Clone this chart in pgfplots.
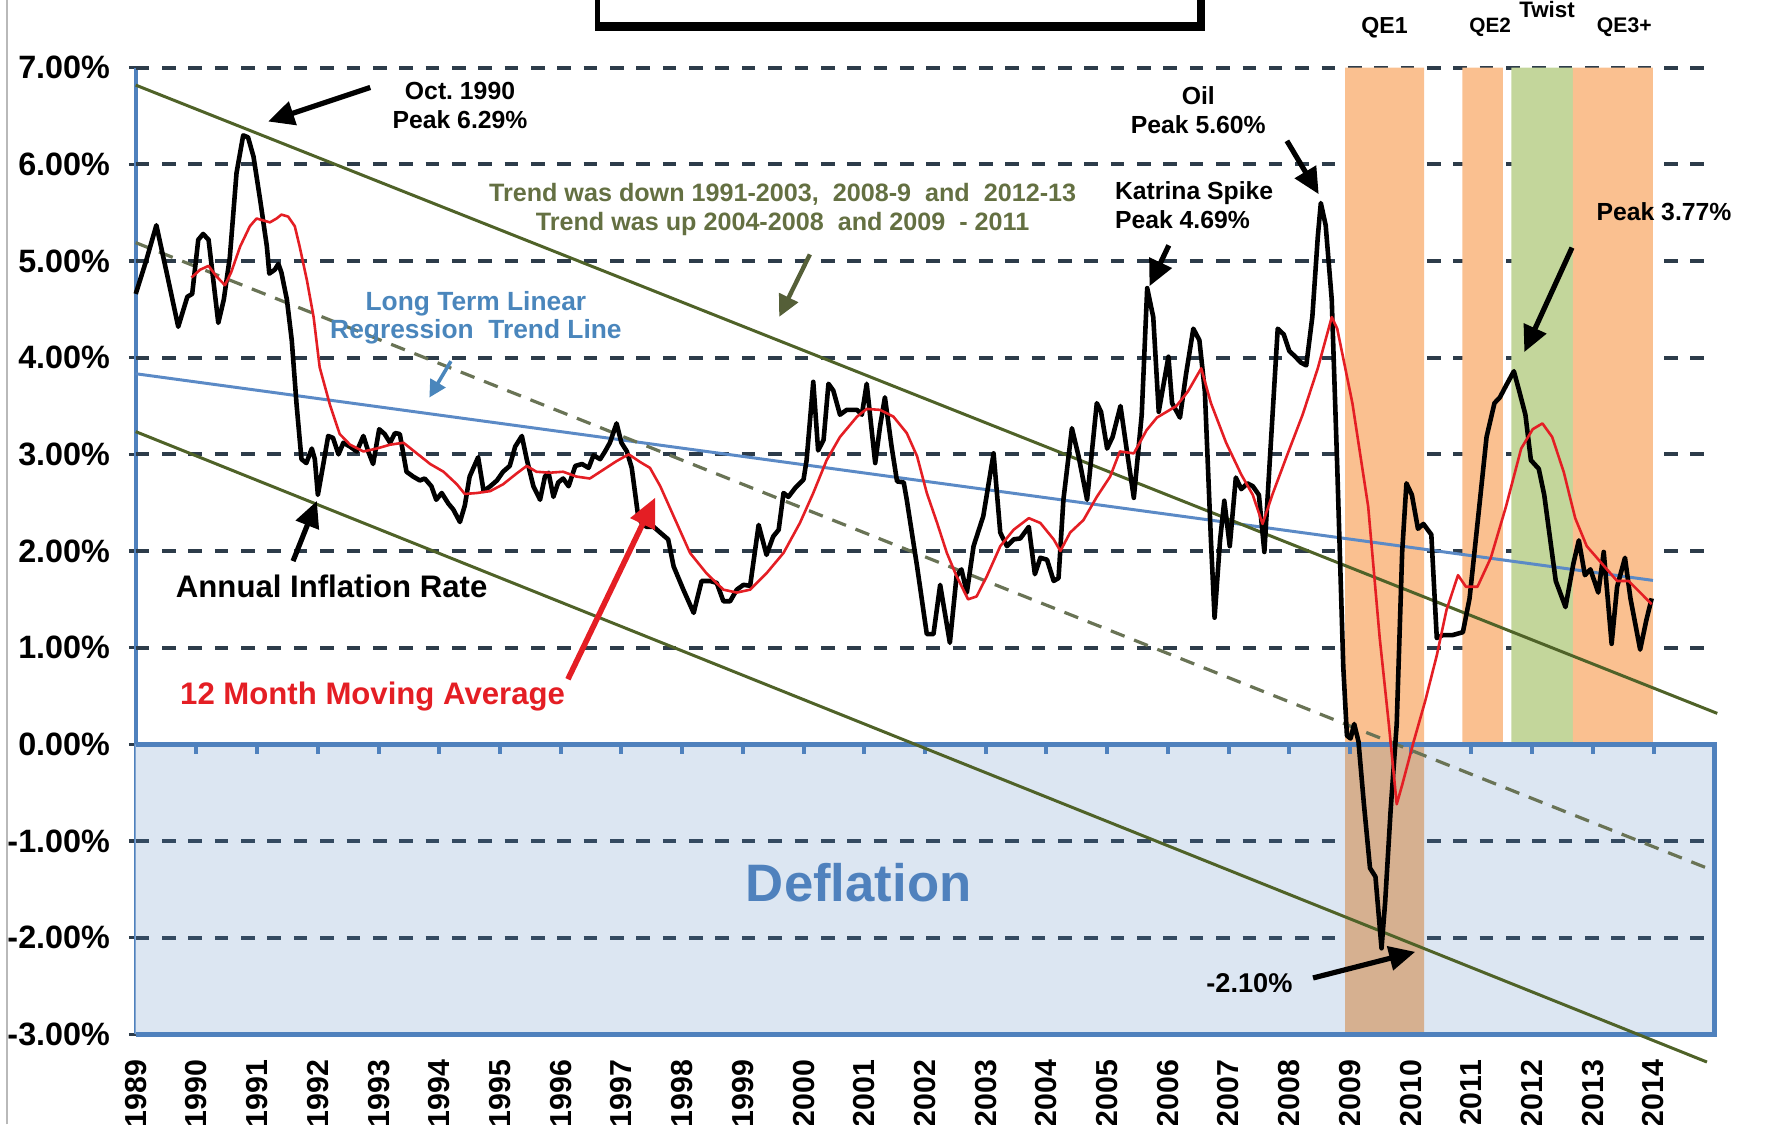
\documentclass[border=0pt]{standalone}
\usepackage{fontspec}
\setmainfont{Liberation Sans}
\usepackage{pgfplots}
\pgfplotsset{compat=1.18}
\usetikzlibrary{arrows.meta}
\definecolor{gridc}{RGB}{45,60,74}
\definecolor{axblue}{RGB}{79,129,189}
\definecolor{deffill}{RGB}{220,230,242}
\definecolor{qeorange}{RGB}{250,192,144}
\definecolor{qegreen}{RGB}{195,214,155}
\definecolor{qelow}{RGB}{214,176,144}
\definecolor{trendc}{RGB}{79,98,40}
\definecolor{trenddash}{RGB}{105,115,85}
\definecolor{regc}{RGB}{91,138,198}
\definecolor{mared}{RGB}{228,30,36}
\definecolor{olivetext}{RGB}{100,112,66}
\definecolor{bluetext}{RGB}{74,134,188}
\pgfplotsset{gridl/.style={gridc, line width=1pt, dash pattern=on 1.2mm off 1.12mm}}
\begin{document}
\begin{tikzpicture}
\begin{axis}[
  at={(11.95mm,7.94mm)}, anchor=south west,
  width=138.97mm, height=85.1mm, scale only axis,
  xmin=1989, xmax=2015, ymin=-3, ymax=7,
  axis x line*=bottom, axis y line*=left,
  x axis line style={axblue, line width=1.2pt, -},
  y axis line style={axblue, line width=1pt, -},
  xtick={1989,1990,1991,1992,1993,1994,1995,1996,1997,1998,1999,2000,2001,2002,2003,2004,2005,2006,2007,2008,2009,2010,2011,2012,2013,2014},
  xticklabels={1989,1990,1991,1992,1993,1994,1995,1996,1997,1998,1999,2000,2001,2002,2003,2004,2005,2006,2007,2008,2009,2010,2011,2012,2013,2014},
  xtick style={draw=none},
  xticklabel style={rotate=90, anchor=east, font=\fontsize{7.6}{9}\selectfont\bfseries, inner sep=0pt},
  xticklabel shift=1.6mm,
  ytick={-3,-2,-1,0,1,2,3,4,5,6,7},
  yticklabels={-3.00\%,-2.00\%,-1.00\%,0.00\%,1.00\%,2.00\%,3.00\%,4.00\%,5.00\%,6.00\%,7.00\%},
  yticklabel style={anchor=east, font=\fontsize{8.1}{9}\selectfont\bfseries, inner sep=0pt},
  yticklabel shift=1.6mm,
  ytick style={gridc, line width=0.8pt},
  tick align=outside, major tick length=0.6mm,
  clip=false,
]
% deflation box fill
\addplot[draw=none, fill=deffill] coordinates {(1989,-3) (1989,0) (2015,0) (2015,-3) (1989,-3)};
% grid lines
\addplot[gridl] coordinates {(1989,7) (2015,7)};
\addplot[gridl] coordinates {(1989,6) (2015,6)};
\addplot[gridl] coordinates {(1989,5) (2015,5)};
\addplot[gridl] coordinates {(1989,4) (2015,4)};
\addplot[gridl] coordinates {(1989,3) (2015,3)};
\addplot[gridl] coordinates {(1989,2) (2015,2)};
\addplot[gridl] coordinates {(1989,1) (2015,1)};
\addplot[gridl, color=gridc!80!axblue] coordinates {(1989,-1) (2015,-1)};
\addplot[gridl, color=gridc!80!axblue] coordinates {(1989,-2) (2015,-2)};
% QE bands
\addplot[draw=none, fill=qeorange] coordinates {(2008.92,0) (2008.92,7) (2010.22,7) (2010.22,0) (2008.92,0)};
\addplot[draw=none, fill=qelow] coordinates {(2008.92,-3) (2008.92,0) (2010.22,0) (2010.22,-3) (2008.92,-3)};
\addplot[draw=none, fill=qeorange] coordinates {(2010.85,0) (2010.85,7) (2011.52,7) (2011.52,0) (2010.85,0)};
\addplot[draw=none, fill=qegreen] coordinates {(2011.66,0) (2011.66,7) (2012.67,7) (2012.67,0) (2011.66,0)};
\addplot[draw=none, fill=qeorange] coordinates {(2012.67,0) (2012.67,7) (2013.99,7) (2013.99,0) (2012.67,0)};
% deflation border
\addplot[axblue, line width=1.2pt] coordinates {(1989,0) (2015,0) (2015,-3) (1989,-3)};
% zero-line ticks
\addplot[axblue, line width=1pt, ycomb] coordinates {(1990,-0.1) (1991,-0.1) (1992,-0.1) (1993,-0.1) (1994,-0.1) (1995,-0.1) (1996,-0.1) (1997,-0.1) (1998,-0.1) (1999,-0.1) (2000,-0.1) (2001,-0.1) (2002,-0.1) (2003,-0.1) (2004,-0.1) (2005,-0.1) (2006,-0.1) (2007,-0.1) (2008,-0.1) (2009,-0.1) (2010,-0.1) (2011,-0.1) (2012,-0.1) (2013,-0.1) (2014,-0.1)};
% trend lines
\addplot[regc, line width=0.75pt] coordinates {(1989,3.834) (2013.99,1.696)};
\addplot[trendc, line width=0.75pt] coordinates {(1989,6.82) (2015.05,0.32)};
\addplot[trendc, line width=0.75pt] coordinates {(1989,3.235) (2014.88,-3.287)};
\addplot[trenddash, line width=0.8pt, dash pattern=on 1.3mm off 0.9mm] coordinates {(1989,5.19) (2014.92,-1.29)};
% annual inflation rate
\addplot[black, line width=1.15pt, line join=round] coordinates {
(1989.0,4.66) (1989.17,5.0) (1989.34,5.37) (1989.52,4.85) (1989.70,4.32) (1989.85,4.63) (1989.93,4.66)
(1990.03,5.22) (1990.11,5.28) (1990.2,5.22) (1990.36,4.36) (1990.45,4.6) (1990.55,5.04) (1990.66,5.91)
(1990.77,6.30) (1990.85,6.28) (1990.94,6.08) (1991.05,5.63) (1991.16,5.15) (1991.2,4.87) (1991.29,4.91)
(1991.35,4.97) (1991.4,4.88) (1991.49,4.6) (1991.57,4.18) (1991.65,3.51) (1991.73,2.95) (1991.81,2.91)
(1991.9,3.06) (1991.95,2.95) (1992.0,2.58) (1992.09,2.9) (1992.17,3.19) (1992.25,3.17) (1992.34,3.0)
(1992.42,3.12) (1992.53,3.08) (1992.64,3.03) (1992.75,3.19) (1992.83,3.03) (1992.91,2.9) (1993.01,3.26)
(1993.1,3.21) (1993.19,3.12) (1993.27,3.22) (1993.35,3.21) (1993.46,2.82) (1993.57,2.77) (1993.68,2.73)
(1993.76,2.75) (1993.87,2.67) (1993.95,2.53) (1994.04,2.6) (1994.15,2.49) (1994.23,2.43) (1994.34,2.3)
(1994.42,2.47) (1994.5,2.77) (1994.64,2.97) (1994.73,2.62) (1994.84,2.67) (1994.95,2.73) (1995.05,2.82)
(1995.16,2.88) (1995.25,3.08) (1995.36,3.19) (1995.44,2.95) (1995.55,2.67) (1995.66,2.53) (1995.74,2.77)
(1995.8,2.81) (1995.88,2.56) (1995.96,2.71) (1996.04,2.75) (1996.13,2.67) (1996.24,2.88) (1996.35,2.9)
(1996.46,2.86) (1996.54,2.99) (1996.65,2.95) (1996.73,3.03) (1996.81,3.12) (1996.92,3.32) (1997.0,3.12)
(1997.09,3.03) (1997.17,2.86) (1997.28,2.34) (1997.36,2.27) (1997.42,2.25) (1997.53,2.25) (1997.64,2.19)
(1997.77,2.12) (1997.86,1.84) (1998.02,1.6) (1998.19,1.36) (1998.32,1.69) (1998.46,1.69) (1998.57,1.67)
(1998.68,1.48) (1998.79,1.48) (1998.9,1.6) (1999.01,1.65) (1999.12,1.64) (1999.26,2.27) (1999.39,1.96)
(1999.5,2.15) (1999.59,2.22) (1999.67,2.6) (1999.75,2.56) (1999.86,2.65) (2000.0,2.74) (2000.05,2.94)
(2000.16,3.75) (2000.24,3.04) (2000.33,3.15) (2000.41,3.73) (2000.49,3.66) (2000.6,3.41) (2000.71,3.46)
(2000.88,3.46) (2000.96,3.41) (2001.04,3.73) (2001.18,2.91) (2001.26,3.29) (2001.34,3.59) (2001.45,3.08)
(2001.54,2.72) (2001.65,2.71) (2001.7,2.53) (2001.87,1.84) (2002.03,1.14) (2002.14,1.14) (2002.25,1.65)
(2002.41,1.05) (2002.52,1.74) (2002.6,1.81) (2002.69,1.57) (2002.8,2.05) (2002.96,2.36) (2003.13,3.01)
(2003.24,2.19) (2003.35,2.05) (2003.46,2.12) (2003.57,2.13) (2003.71,2.25) (2003.81,1.76) (2003.9,1.93)
(2004.01,1.91) (2004.12,1.69) (2004.2,1.72) (2004.28,2.53) (2004.42,3.27) (2004.53,2.98) (2004.67,2.53)
(2004.83,3.53) (2004.9,3.44) (2005.0,3.06) (2005.09,3.18) (2005.22,3.5) (2005.32,3.06) (2005.44,2.55)
(2005.57,3.41) (2005.66,4.72) (2005.76,4.42) (2005.85,3.44) (2006.01,4.01) (2006.07,3.53) (2006.2,3.38)
(2006.3,3.83) (2006.42,4.3) (2006.52,4.18) (2006.61,3.65) (2006.71,2.11) (2006.77,1.31) (2006.86,2.11)
(2006.93,2.52) (2007.02,2.05) (2007.12,2.76) (2007.21,2.64) (2007.31,2.7) (2007.4,2.67) (2007.5,2.58)
(2007.59,1.99) (2007.68,2.94) (2007.81,4.3) (2007.91,4.24) (2008.0,4.07) (2008.1,4.01) (2008.19,3.95)
(2008.28,3.92) (2008.38,4.42) (2008.47,5.25) (2008.52,5.6) (2008.6,5.37) (2008.7,4.6) (2008.79,2.88)
(2008.89,0.8) (2008.95,0.09) (2009.01,0.06) (2009.07,0.21) (2009.14,0.03) (2009.23,-0.62) (2009.33,-1.28)
(2009.42,-1.37) (2009.52,-2.11) (2009.58,-1.63) (2009.67,-0.68) (2009.77,0.21) (2009.86,1.99) (2009.93,2.7)
(2010.02,2.58) (2010.12,2.23) (2010.21,2.28) (2010.34,2.17) (2010.43,1.1) (2010.53,1.13) (2010.69,1.13)
(2010.86,1.16) (2010.97,1.51) (2011.13,2.46) (2011.25,3.18) (2011.38,3.53) (2011.47,3.59) (2011.57,3.71)
(2011.7,3.86) (2011.79,3.65) (2011.89,3.41) (2011.98,2.94) (2012.11,2.85) (2012.2,2.58) (2012.3,2.11)
(2012.39,1.69) (2012.55,1.42) (2012.68,1.87) (2012.77,2.11) (2012.87,1.75) (2012.96,1.81) (2013.09,1.57)
(2013.18,1.99) (2013.31,1.04) (2013.4,1.63) (2013.53,1.93) (2013.62,1.51) (2013.78,0.98) (2013.88,1.28)
(2013.97,1.51)};
% 12 month moving average
\addplot[mared, line width=0.65pt, line join=round] coordinates {
(1989.92,4.83) (1990.06,4.91) (1990.2,4.95) (1990.33,4.84) (1990.47,4.75) (1990.57,4.88) (1990.72,5.15)
(1990.88,5.36) (1990.99,5.44) (1991.1,5.42) (1991.21,5.40) (1991.32,5.44) (1991.4,5.48) (1991.51,5.46)
(1991.62,5.36) (1991.7,5.15) (1991.82,4.8) (1991.93,4.42) (1992.03,3.9) (1992.2,3.51) (1992.36,3.21)
(1992.53,3.1) (1992.75,3.03) (1992.97,3.06) (1993.19,3.1) (1993.41,3.12) (1993.63,3.01) (1993.85,2.9)
(1994.07,2.82) (1994.29,2.69) (1994.42,2.59) (1994.62,2.6) (1994.84,2.62) (1995.05,2.69) (1995.27,2.8)
(1995.44,2.88) (1995.6,2.82) (1995.82,2.81) (1996.04,2.82) (1996.26,2.77) (1996.48,2.75) (1996.7,2.84)
(1996.92,2.93) (1997.12,3.0) (1997.31,2.92) (1997.47,2.86) (1997.64,2.67) (1997.86,2.36) (1998.13,1.98)
(1998.4,1.77) (1998.68,1.6) (1998.9,1.57) (1999.12,1.6) (1999.39,1.77) (1999.67,1.98) (1999.94,2.29)
(2000.16,2.6) (2000.38,2.94) (2000.6,3.18) (2000.88,3.39) (2001.04,3.47) (2001.26,3.46) (2001.48,3.39)
(2001.7,3.22) (2001.87,2.98) (2002.03,2.6) (2002.2,2.29) (2002.36,1.98) (2002.52,1.74) (2002.71,1.5)
(2002.85,1.53) (2003.02,1.74) (2003.24,2.05) (2003.46,2.22) (2003.71,2.34) (2003.9,2.29) (2004.12,2.12)
(2004.23,2.0) (2004.39,2.19) (2004.61,2.32) (2004.83,2.56) (2005.05,2.77) (2005.21,3.03) (2005.44,3.01)
(2005.65,3.25) (2005.82,3.38) (2006.14,3.5) (2006.33,3.65) (2006.55,3.89) (2006.71,3.53) (2006.96,3.12)
(2007.21,2.79) (2007.4,2.58) (2007.56,2.28) (2007.72,2.58) (2007.97,3.0) (2008.22,3.41) (2008.47,3.89)
(2008.7,4.42) (2008.79,4.3) (2009.04,3.53) (2009.3,2.46) (2009.49,1.1) (2009.64,0.21) (2009.77,-0.62)
(2009.86,-0.42) (2010.05,0.03) (2010.24,0.45) (2010.43,0.92) (2010.59,1.39) (2010.78,1.75) (2010.91,1.63)
(2011.1,1.63) (2011.32,1.93) (2011.57,2.46) (2011.82,3.06) (2012.01,3.26) (2012.17,3.32) (2012.33,3.18)
(2012.52,2.82) (2012.71,2.34) (2012.9,2.05) (2013.15,1.87) (2013.4,1.69) (2013.59,1.69) (2013.78,1.57)
(2013.97,1.45)};
\end{axis}
\begin{scope}[x=1mm,y=1mm]
% frame line and title box
\draw[gray!55, line width=0.5pt] (0.6,0) -- (0.6,99);
\fill[black] (52.4,96.3) rectangle (106.1,101);
\fill[white] (52.8,97.1) rectangle (105.4,101);
% annotations
\tikzset{ann/.style={font=\fontsize{6.2}{7.3}\selectfont\bfseries, align=center, inner sep=0pt},
  blk/.style={black, line width=1.3pt, -{Triangle[length=2.3mm, width=2.1mm]}}}
\node[ann] at (40.5,89.7) {Oct.\ 1990\\Peak 6.29\%};
\draw[blk] (32.6,91.3) -- (23.6,88.3);
\node[ann, text=olivetext, font=\fontsize{6.3}{7.2}\selectfont\bfseries] at (68.9,80.55) {Trend was down 1991-2003,\ \ 2008-9\ \ and\ \ 2012-13\\Trend was up 2004-2008\ \ and 2009\ \ - 2011};
\draw[olivetext!85!black, line width=1.1pt, -{Triangle[length=1.9mm, width=1.8mm]}] (71.3,76.6) -- (68.6,71.1);
\node[ann, text=bluetext, font=\fontsize{6.6}{7.1}\selectfont\bfseries] at (41.9,71.05) {Long Term Linear\\Regression\ \ Trend Line};
\draw[bluetext, line width=0.9pt, -{Triangle[length=1.5mm, width=1.5mm]}] (39.7,67.2) -- (37.8,64.0);
\node[ann, font=\fontsize{7.8}{9}\selectfont\bfseries] at (29.2,47.4) {Annual Inflation Rate};
\draw[blk] (25.8,49.6) -- (27.9,54.9);
\node[ann, text=mared, font=\fontsize{7.8}{9}\selectfont\bfseries] at (32.8,37.7) {12 Month Moving Average};
\draw[mared, line width=1.4pt, -{Triangle[length=2.6mm, width=2.3mm]}] (50.0,39.2) -- (57.7,55.2);
\node[ann, align=left, anchor=west] at (98.1,80.95) {Katrina\ Spike\\Peak 4.69\%};
\draw[blk] (102.9,77.4) -- (101.2,73.8);
\node[ann] at (105.5,89.3) {Oil\\Peak 5.60\%};
\draw[blk] (113.3,86.6) -- (116.1,81.9);
\node[ann] at (146.5,80.4) {Peak 3.77\%};
\draw[blk] (138.4,77.2) -- (134.2,68.0);
\node[ann, font=\fontsize{6.8}{8}\selectfont\bfseries] at (110.0,12.4) {-2.10\%};
\draw[blk] (115.6,12.9) -- (124.6,15.2);
\node[ann, text=axblue, font=\fontsize{13.2}{15}\selectfont\bfseries] at (75.6,21.3) {Deflation};
\node[ann, font=\fontsize{5.8}{7}\selectfont\bfseries] at (121.9,96.6) {QE1};
\node[ann, font=\fontsize{5.2}{6}\selectfont\bfseries] at (131.2,96.6) {QE2};
\node[ann, font=\fontsize{5.3}{6}\selectfont\bfseries] at (143.0,96.6) {QE3+};
\node[ann, font=\fontsize{5.6}{7}\selectfont\bfseries] at (136.2,98.2) {Twist};
\end{scope}
\pgfresetboundingbox
\path[use as bounding box] (0mm,0mm) rectangle (156.8mm,99mm);
\end{tikzpicture}
\end{document}
